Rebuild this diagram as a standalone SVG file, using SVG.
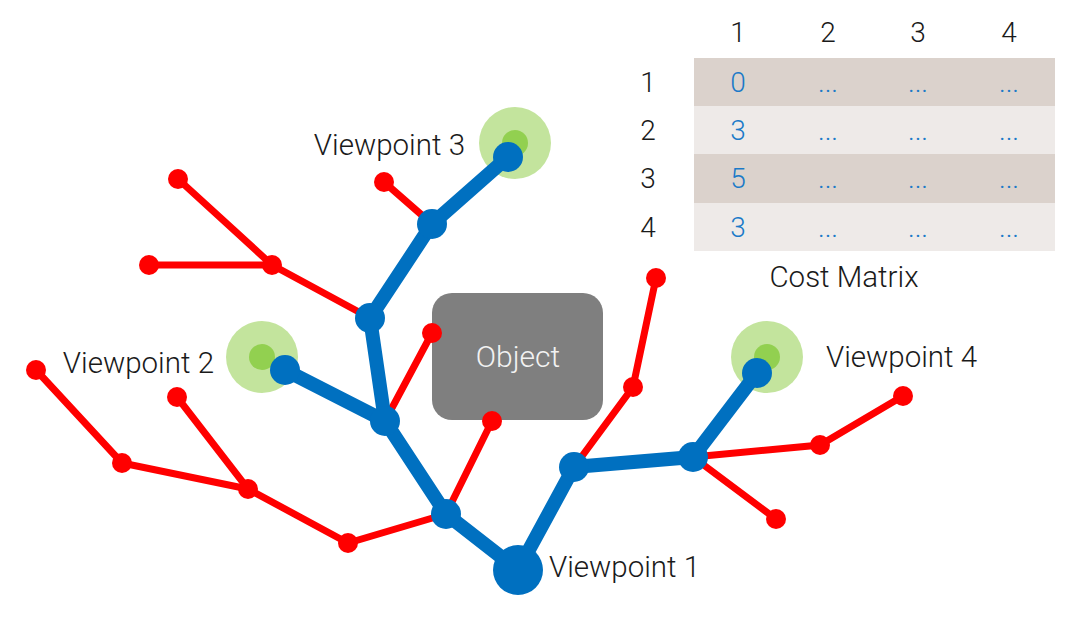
<svg xmlns="http://www.w3.org/2000/svg" width="1073" height="628" viewBox="0 0 1073 628">
<style>
text{font-family:Roboto,"Liberation Sans",sans-serif;font-weight:300;}
.lbl{font-size:29.5px;fill:#1a1a1a;}
.num{font-size:28px;fill:#1a1a1a;text-anchor:middle;}
.val{font-size:28px;fill:#1b7ac8;text-anchor:middle;}
.red{stroke:#ff0000;stroke-width:7;fill:none;stroke-linecap:round;}
.blue{stroke:#0070c0;stroke-width:14;fill:none;stroke-linecap:round;}
.rd{fill:#ff0000;}
.bd{fill:#0070c0;}
.halo{fill:#c3e49d;}
.core{fill:#92d050;}
</style>
<rect width="1073" height="628" fill="#ffffff"/>
<g id="cost-matrix">
<rect x="694" y="58" width="361" height="48" fill="#dbd2cc"/>
<rect x="694" y="106" width="361" height="48" fill="#eeeae8"/>
<rect x="694" y="154" width="361" height="49" fill="#dbd2cc"/>
<rect x="694" y="203" width="361" height="48" fill="#eeeae8"/>
<text class="num" x="738" y="42">1</text>
<text class="num" x="828" y="42">2</text>
<text class="num" x="918" y="42">3</text>
<text class="num" x="1009" y="42">4</text>
<text class="num" x="648" y="92">1</text>
<text class="num" x="648" y="140">2</text>
<text class="num" x="648" y="188">3</text>
<text class="num" x="648" y="237">4</text>
<text class="val" x="738" y="92">0</text>
<text class="val" x="738" y="140">3</text>
<text class="val" x="738" y="188">5</text>
<text class="val" x="738" y="237">3</text>
<g class="dots">
<text class="val" x="828" y="92">...</text><text class="val" x="918" y="92">...</text><text class="val" x="1009" y="92">...</text>
<text class="val" x="828" y="140">...</text><text class="val" x="918" y="140">...</text><text class="val" x="1009" y="140">...</text>
<text class="val" x="828" y="188">...</text><text class="val" x="918" y="188">...</text><text class="val" x="1009" y="188">...</text>
<text class="val" x="828" y="237">...</text><text class="val" x="918" y="237">...</text><text class="val" x="1009" y="237">...</text>
</g>
<text class="lbl" x="844" y="287" text-anchor="middle" font-size="30">Cost Matrix</text>
</g>
<g id="object">
<rect x="432" y="293" width="171" height="127" rx="20" fill="#7f7f7f"/>
<text x="518" y="367" font-size="30" fill="#f2f2f2" text-anchor="middle">Object</text>
</g>
<g id="halos">
<circle class="halo" cx="515" cy="143" r="36"/><circle class="core" cx="515" cy="143" r="13"/>
<circle class="halo" cx="262" cy="357" r="36"/><circle class="core" cx="262" cy="357" r="13"/>
<circle class="halo" cx="767" cy="357" r="36"/><circle class="core" cx="767" cy="357" r="13"/>
</g>
<g id="connectors">
<g id="red-edges">
<path class="red" d="M446 514 L492 421"/>
<path class="red" d="M446 514 L348 543 L248 489 L177 397"/>
<path class="red" d="M248 489 L122 463 L36 370"/>
<path class="red" d="M385 421 L432 333"/>
<path class="red" d="M370 318 L272 265 L149 265"/>
<path class="red" d="M272 265 L178 179"/>
<path class="red" d="M432 224 L384 182"/>
<path class="red" d="M574 467 L633 387 L656 278"/>
<path class="red" d="M693 457 L820 445 L903 396"/>
<path class="red" d="M693 457 L776 519"/>
</g>
<g id="blue-edges">
<path class="blue" d="M518 570 L446 514 L385 421 L370 318 L432 224 L508 157"/>
<path class="blue" d="M385 421 L285 370"/>
<path class="blue" d="M518 570 L574 467 L693 457 L757 373"/>
</g>
</g>
<g id="red-nodes">
<circle class="rd" cx="492" cy="421" r="10"/>
<circle class="rd" cx="348" cy="543" r="10"/>
<circle class="rd" cx="248" cy="489" r="10"/>
<circle class="rd" cx="177" cy="397" r="10"/>
<circle class="rd" cx="122" cy="463" r="10"/>
<circle class="rd" cx="36" cy="370" r="10"/>
<circle class="rd" cx="432" cy="333" r="10"/>
<circle class="rd" cx="272" cy="265" r="10"/>
<circle class="rd" cx="149" cy="265" r="10"/>
<circle class="rd" cx="178" cy="179" r="10"/>
<circle class="rd" cx="384" cy="182" r="10"/>
<circle class="rd" cx="633" cy="387" r="10"/>
<circle class="rd" cx="656" cy="278" r="10"/>
<circle class="rd" cx="820" cy="445" r="10"/>
<circle class="rd" cx="903" cy="396" r="10"/>
<circle class="rd" cx="776" cy="519" r="10"/>
</g>
<g id="blue-nodes">
<circle class="bd" cx="446" cy="514" r="15"/>
<circle class="bd" cx="385" cy="421" r="15"/>
<circle class="bd" cx="370" cy="318" r="15"/>
<circle class="bd" cx="432" cy="224" r="15"/>
<circle class="bd" cx="574" cy="467" r="15"/>
<circle class="bd" cx="693" cy="457" r="15"/>
</g>
<g id="viewpoint-1"><circle class="bd" cx="518" cy="570" r="25"/><text class="lbl" x="549" y="577">Viewpoint 1</text></g>
<g id="viewpoint-2"><circle class="bd" cx="285" cy="370" r="15"/><text class="lbl" x="214" y="373" text-anchor="end">Viewpoint 2</text></g>
<g id="viewpoint-3"><circle class="bd" cx="508" cy="157" r="15"/><text class="lbl" x="465" y="155" text-anchor="end">Viewpoint 3</text></g>
<g id="viewpoint-4"><circle class="bd" cx="757" cy="373" r="15"/><text class="lbl" x="826" y="367">Viewpoint 4</text></g>
</svg>
